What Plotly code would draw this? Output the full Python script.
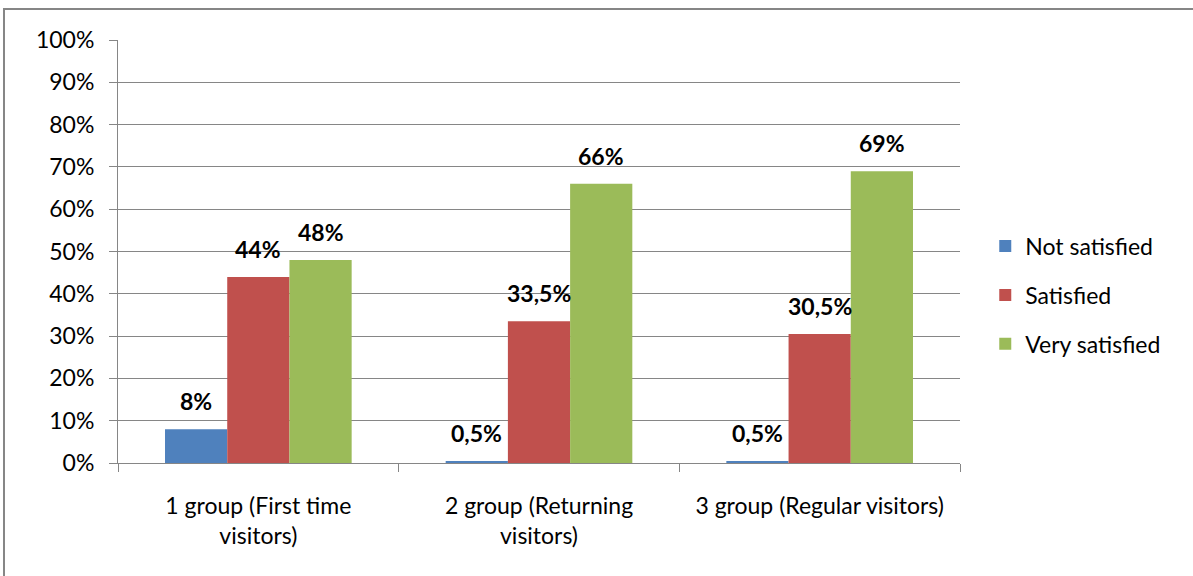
import plotly.graph_objects as go

categories = ["1 group (First time<br>visitors)", "2 group (Returning<br>visitors)", "3 group (Regular visitors)"]
series_names = ["Not satisfied", "Satisfied", "Very satisfied"]
not_satisfied = [8, 0.5, 0.5]
satisfied = [44, 33.5, 30.5]
very_satisfied = [48, 66, 69]
label_not = ["8%", "0,5%", "0,5%"]
label_sat = ["44%", "33,5%", "30,5%"]
label_very = ["48%", "66%", "69%"]
colors = ["#4F81BD", "#C0504D", "#9BBB59"]
tick_vals = [0, 10, 20, 30, 40, 50, 60, 70, 80, 90, 100]
tick_text = [f"{v}%" for v in tick_vals]

FONT = "Lato, Calibri, Carlito, sans-serif"
BARGAP = 0.335

fig = go.Figure()
all_series = [not_satisfied, satisfied, very_satisfied]
all_labels = [label_not, label_sat, label_very]
for i, (name, vals, col) in enumerate(zip(series_names, all_series, colors)):
    fig.add_trace(go.Bar(
        x=categories, y=vals, name=name, legendgroup=name,
        marker=dict(color=col, line=dict(width=0)),
    ))

# data labels above each bar, placed on the grouped-bar slot positions
n = len(series_names)
slot = (1 - BARGAP) / n
annotations = []
for i, (vals, labels) in enumerate(zip(all_series, all_labels)):
    off = (i - (n - 1) / 2) * slot
    for j, (v, t) in enumerate(zip(vals, labels)):
        annotations.append(dict(
            x=j + off, y=v, xref="x", yref="y", text=f"<b>{t}</b>",
            showarrow=False, yanchor="bottom", xanchor="center", yshift=12,
            font=dict(family=FONT, size=23, color="#000000"),
        ))

fig.update_layout(
    width=1193, height=576,
    margin=dict(l=118, r=233, t=40, b=113),
    paper_bgcolor="white", plot_bgcolor="white",
    barmode="group", bargap=BARGAP, bargroupgap=0,
    font=dict(family=FONT, size=23, color="#000000"),
    showlegend=True,
    legend=dict(x=1.03, y=0.397, xanchor="left", yanchor="middle",
                font=dict(family=FONT, size=23, color="#000000"),
                itemwidth=30, tracegroupgap=16, traceorder="grouped"),
    xaxis=dict(showline=True, linecolor="#868686", linewidth=1,
               ticks="outside", ticklen=8, tickcolor="#868686",
               tickson="boundaries", showgrid=False, ticklabelstandoff=22,
               tickfont=dict(family=FONT, size=23, color="#000000")),
    yaxis=dict(range=[0, 100], tickvals=tick_vals, ticktext=tick_text,
               showline=True, linecolor="#868686", linewidth=1,
               ticks="outside", ticklen=8, tickcolor="#868686",
               showgrid=True, gridcolor="#868686", gridwidth=1,
               zeroline=False, ticklabelstandoff=10,
               tickfont=dict(family=FONT, size=23, color="#000000")),
    annotations=annotations,
    shapes=[dict(type="rect", xref="paper", yref="paper",
                 x0=-0.1354, x1=1.35, y0=-0.35, y1=1.073,
                 line=dict(color="#868686", width=2), fillcolor="rgba(0,0,0,0)",
                 layer="below")],
)

fig.write_html("out.html")
